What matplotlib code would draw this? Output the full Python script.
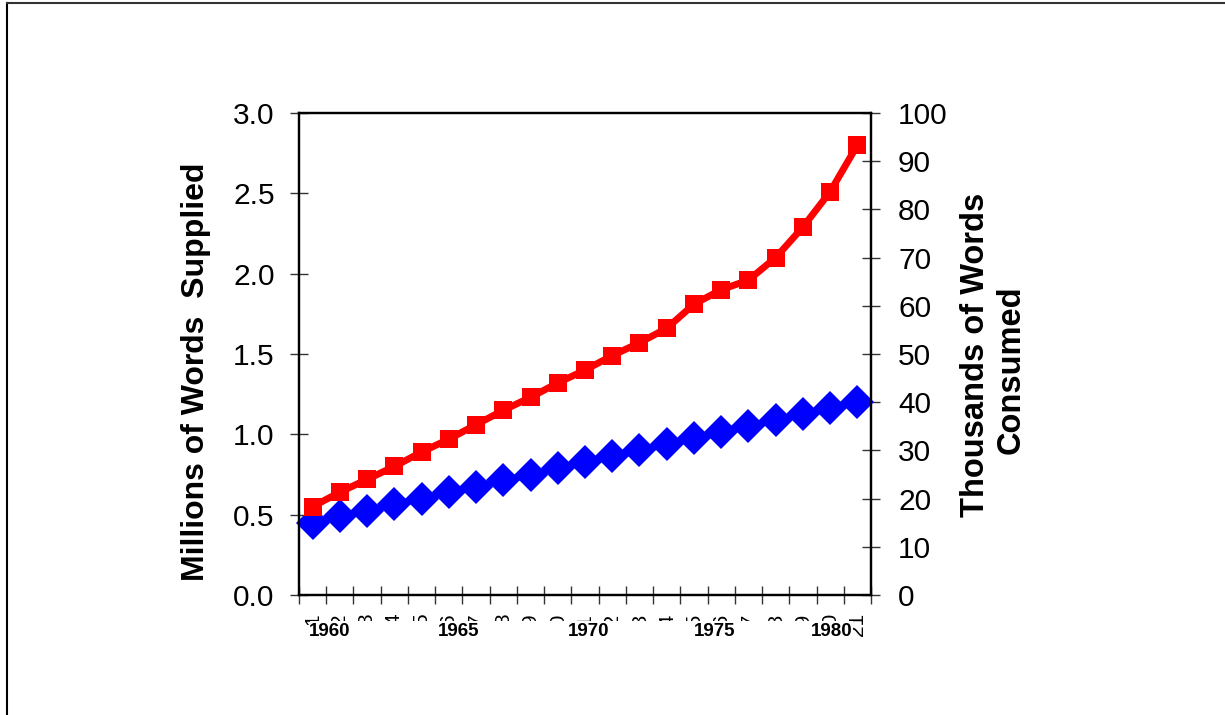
import numpy as np
import matplotlib
matplotlib.use("Agg")
import matplotlib.pyplot as plt
from matplotlib.lines import Line2D
from matplotlib.patches import Rectangle

plt.rcParams['font.family'] = ['Liberation Sans', 'DejaVu Sans']

# ---- data ----
years = list(range(1960, 1981))
category_labels = [str(i) for i in range(1, 22)]
year_labels = ["1960", "1965", "1970", "1975", "1980"]
words_supplied = [0.55, 0.64, 0.72, 0.80, 0.89, 0.97, 1.06, 1.15, 1.23, 1.32, 1.40,
                  1.49, 1.57, 1.66, 1.81, 1.90, 1.96, 2.10, 2.29, 2.51, 2.80]
words_consumed = [15.0, 16.3, 17.5, 18.8, 20.0, 21.3, 22.5, 23.8, 25.0, 26.3, 27.5,
                  28.8, 30.0, 31.3, 32.5, 33.8, 35.0, 36.3, 37.5, 38.8, 40.0]
left_ticks = [0.0, 0.5, 1.0, 1.5, 2.0, 2.5, 3.0]
right_ticks = [0, 10, 20, 30, 40, 50, 60, 70, 80, 90, 100]

W, H = 1225, 715
fig = plt.figure(figsize=(W / 100, H / 100), dpi=100)
fig.patch.set_facecolor('white')

ax_l, ax_r, ax_b, ax_t = 299, 871, 595, 113
ax = fig.add_axes([ax_l / W, 1 - ax_b / H, (ax_r - ax_l) / W, (ax_b - ax_t) / H])
ax2 = ax.twinx()

x = np.arange(len(years))

ax2.plot(x, words_consumed, color='#0000FF', lw=5, marker='D', ms=17,
         mew=0, clip_on=False, zorder=3)
ax.plot(x, words_supplied, color='#FF0000', lw=5, marker='s', ms=12.5,
        mew=0, clip_on=False, zorder=3)

ax.set_zorder(ax2.get_zorder() + 1)
ax.patch.set_visible(False)

ax.set_xlim(-0.5, len(years) - 0.5)
ax.set_ylim(0, 3.0)
ax2.set_ylim(0, 100)

# x ticks at category boundaries, labels at category centres
ax.set_xticks(np.arange(-0.5, len(years), 1.0))
ax.set_xticklabels([])
ax.set_xticks(x, minor=True)
ax.set_xticklabels(category_labels, minor=True, rotation=90, fontsize=15)
ax.tick_params(axis='x', which='major', direction='inout', length=13, width=1,
               color='#333333')
ax.tick_params(axis='x', which='minor', length=0, pad=13)

ax.set_yticks(left_ticks)
ax.set_yticklabels([f"{v:.1f}" for v in left_ticks])
ax.tick_params(axis='y', direction='inout', length=13, width=1, color='#333333',
               labelsize=21.5, pad=11)
ax2.set_yticks(right_ticks)
ax2.set_yticklabels([str(v) for v in right_ticks])
ax2.tick_params(axis='y', direction='inout', length=13, width=1, color='#333333',
                labelsize=21.5, pad=13)

for a in (ax, ax2):
    for s in a.spines.values():
        s.set_linewidth(1.6)
        s.set_color('black')

# axis titles
ax.text((196 - ax_l) / (ax_r - ax_l), (ax_b - 372) / (ax_b - ax_t),
        "Millions of Words  Supplied", transform=ax.transAxes, rotation=90,
        ha='center', va='center', fontsize=23, fontweight='bold')
ax.text((976 - ax_l) / (ax_r - ax_l), (ax_b - 355) / (ax_b - ax_t),
        "Thousands of Words", transform=ax.transAxes, rotation=90,
        ha='center', va='center', fontsize=23.5, fontweight='bold')
ax.text((1011 - ax_l) / (ax_r - ax_l), (ax_b - 370) / (ax_b - ax_t),
        "Consumed", transform=ax.transAxes, rotation=90,
        ha='center', va='center', fontsize=23.5, fontweight='bold')

# white label strip with year labels (covers most of the rotated tick labels)
strip = Rectangle((310 / W, 1 - 652 / H), (853 - 310) / W, (652 - 621) / H,
                  transform=fig.transFigure, facecolor='white', edgecolor='none',
                  zorder=10)
fig.add_artist(strip)
year_px = [330, 459, 589, 715, 832]
for lab, px in zip(year_labels, year_px):
    fig.text(px / W, 1 - 631 / H, lab, ha='center', va='center', fontsize=13.5,
             fontweight='bold', zorder=11)

# outer frame (top and left edges)
fig.add_artist(Line2D([6.5 / W, 6.5 / W], [0, 1 - 2.5 / H], transform=fig.transFigure,
                      color='black', lw=1.5, zorder=12))
fig.add_artist(Line2D([6.5 / W, 1], [1 - 2.5 / H, 1 - 2.5 / H], transform=fig.transFigure,
                      color='#333333', lw=1.5, zorder=12))

fig.savefig("out.png", dpi=100, facecolor='white')
